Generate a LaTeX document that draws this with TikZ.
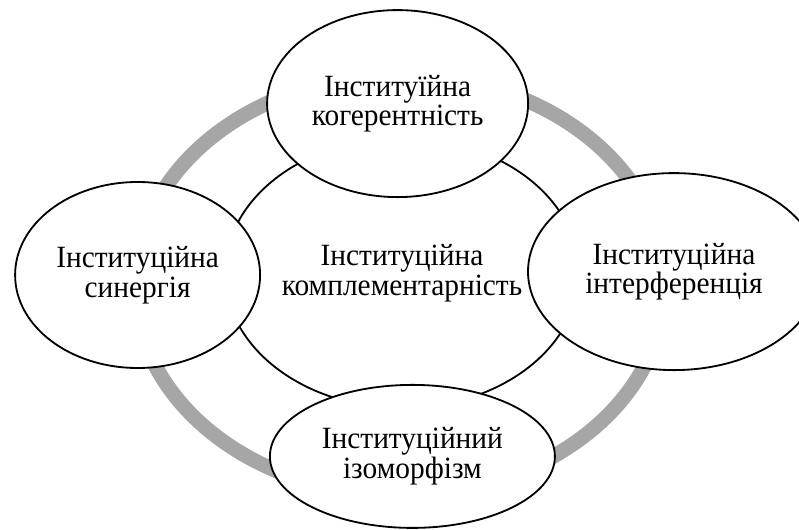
\documentclass[tikz,border=0pt]{standalone}
\usepackage{fontspec}
\setmainfont[FakeStretch=0.95]{Liberation Serif}
\usetikzlibrary{shapes.geometric}

\definecolor{ringgray}{RGB}{166,166,166}

\tikzset{
    blob/.style={ellipse, draw=black, line width=1.3pt, fill=white, inner sep=0pt,
        align=center, font=\fontsize{22}{21}\selectfont},
}

\begin{document}
\begin{tikzpicture}
    \clip (0,0) rectangle (19.975,13.25);
    \useasboundingbox (0,0) rectangle (19.975,13.25);
    % gray ring behind everything
    \draw[ringgray, line width=0.37cm] (10,6.125) ellipse [x radius=6.625, y radius=5.25];
    \node[blob, minimum width=8.85cm, minimum height=6.75cm] (compl) at (10.05,6.425) {Інституційна\\комплементарність};
    \node[blob, minimum width=6.525cm, minimum height=4.675cm] (coher) at (9.94,10.66) {Інституїйна\\когерентність};
    \node[blob, minimum width=6.125cm, minimum height=4.65cm] (syner) at (3.44,6.375) {Інституційна\\синергія};
    \node[blob, minimum width=7.3cm, minimum height=4.925cm] (inter) at (16.85,6.46) {Інституційна\\інтерференція};
    \node[blob, minimum width=7.125cm, minimum height=3.575cm] (isomo) at (10.31,1.84) {Інституційний\\ізоморфізм};
\end{tikzpicture}
\end{document}
